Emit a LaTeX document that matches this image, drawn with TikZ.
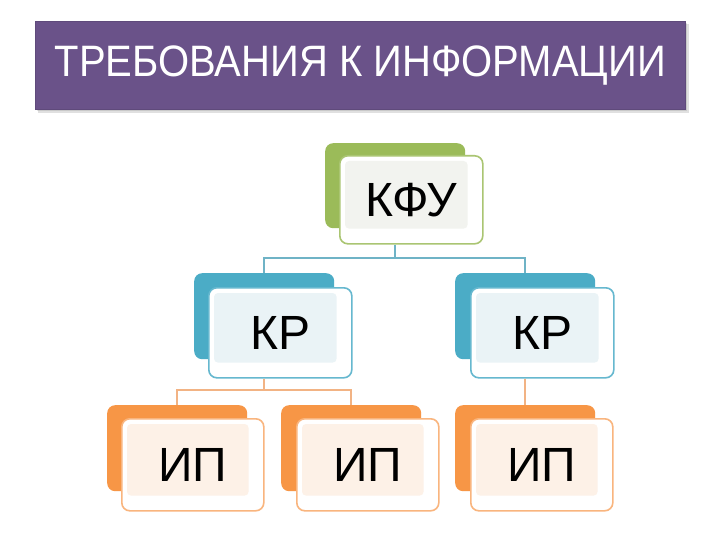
\documentclass[tikz,border=0pt]{standalone}
\usepackage{fontspec}
\setmainfont{Liberation Sans}
\definecolor{ttl}{HTML}{6A5289}
\definecolor{grn}{HTML}{9BBB59}
\definecolor{grnT}{HTML}{F2F3EF}
\definecolor{tea}{HTML}{4BACC6}
\definecolor{teaT}{HTML}{EAF3F6}
\definecolor{org}{HTML}{F79646}
\definecolor{orgT}{HTML}{FDF1E7}
\definecolor{lineT}{HTML}{6FB3C6}
\definecolor{lineO}{HTML}{F2B384}
\begin{document}
\begin{tikzpicture}[x=1pt,y=-1pt,
  backbox/.style={rounded corners=8pt,fill=#1,anchor=north west,inner sep=0pt},
  frontbox/.style={rounded corners=8pt,draw=#1,line width=1.6pt,fill=white,anchor=north west,inner sep=0pt},
  lbl/.style={font=\fontsize{48}{48}\selectfont,text=black},
  conn/.style={line width=1.6pt,draw=#1}]
\useasboundingbox (0,0) rectangle (720,540);
\fill[white] (0,0) rectangle (720,540);
% title
\fill[black,opacity=0.12] (38,24) rectangle (689,113);
\fill[black,opacity=0.10] (37,23) rectangle (687,111);
\node[fill=ttl,draw=ttl!90!black,line width=0.6pt,minimum width=650pt,minimum height=88pt,inner sep=0pt,anchor=north west,
  text=white,font=\fontsize{40}{40}\selectfont] (title) at (35,21) {\scalebox{1}[1.1]{ТРЕБОВАНИЯ К ИНФОРМАЦИИ}};
% KFU
\node[backbox=grn,minimum width=140pt,minimum height=85pt] (kfuB) at (325,143) {};
\node[frontbox=grn!85!white,minimum width=143pt,minimum height=88pt] (kfuF) at (339,155) {};
\fill[grnT,rounded corners=4pt] ([shift={(6,6)}]kfuF.north west) rectangle ([shift={(-16,-16)}]kfuF.south east);
\node[lbl] (kfuT) at (kfuF.center) {КФУ};
% KR left
\node[backbox=tea,minimum width=140pt,minimum height=86pt] (kr1B) at (194,273) {};
\node[frontbox=tea!85!white,minimum width=143pt,minimum height=90pt] (kr1F) at (208,287) {};
\fill[teaT,rounded corners=4pt] ([shift={(6,6)}]kr1F.north west) rectangle ([shift={(-16,-16)}]kr1F.south east);
\node[lbl] (kr1T) at (kr1F.center) {КР};
% KR right
\node[backbox=tea,minimum width=140pt,minimum height=86pt] (kr2B) at (455,273) {};
\node[frontbox=tea!85!white,minimum width=143pt,minimum height=90pt] (kr2F) at (470,287) {};
\fill[teaT,rounded corners=4pt] ([shift={(6,6)}]kr2F.north west) rectangle ([shift={(-16,-16)}]kr2F.south east);
\node[lbl] (kr2T) at (kr2F.center) {КР};
% IP boxes
\node[backbox=org,minimum width=140pt,minimum height=86pt] (ip1B) at (107,405) {};
\node[frontbox=org!70!white,minimum width=142pt,minimum height=92pt] (ip1F) at (121,418) {};
\fill[orgT,rounded corners=4pt] ([shift={(6,6)}]ip1F.north west) rectangle ([shift={(-16,-16)}]ip1F.south east);
\node[lbl] (ip1T) at (ip1F.center) {ИП};
\node[backbox=org,minimum width=140pt,minimum height=86pt] (ip2B) at (281,405) {};
\node[frontbox=org!70!white,minimum width=142pt,minimum height=92pt] (ip2F) at (296,418) {};
\fill[orgT,rounded corners=4pt] ([shift={(6,6)}]ip2F.north west) rectangle ([shift={(-16,-16)}]ip2F.south east);
\node[lbl] (ip2T) at (ip2F.center) {ИП};
\node[backbox=org,minimum width=140pt,minimum height=86pt] (ip3B) at (455,405) {};
\node[frontbox=org!70!white,minimum width=142pt,minimum height=92pt] (ip3F) at (470,418) {};
\fill[orgT,rounded corners=4pt] ([shift={(6,6)}]ip3F.north west) rectangle ([shift={(-16,-16)}]ip3F.south east);
\node[lbl] (ip3T) at (ip3F.center) {ИП};
% connectors
\coordinate (j0) at (0,258);
\coordinate (j1) at (0,390);
\draw[conn=lineT] (kfuB.center |- kfuF.south) -- (kfuB.center |- j0) -| (kr1B.north);
\draw[conn=lineT] (kfuB.center |- j0) -| (kr2B.north);
\draw[conn=lineO] (kr1B.center |- kr1F.south) -- (kr1B.center |- j1) -| (ip1B.north);
\draw[conn=lineO] (kr1B.center |- j1) -| (ip2B.north);
\draw[conn=lineO] (kr2B.center |- kr2F.south) -- (ip3B.north);
\end{tikzpicture}
\end{document}
